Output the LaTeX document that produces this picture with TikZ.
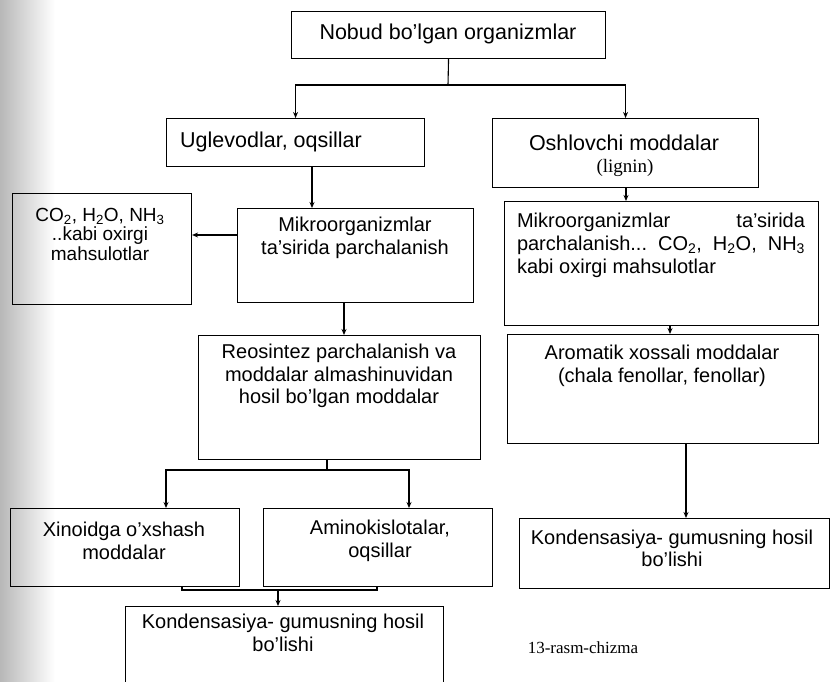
\documentclass[tikz,border=0pt]{standalone}
\usepackage{fontspec}
\setmainfont{Liberation Sans}
\newfontfamily\serifx{Liberation Serif}
\usetikzlibrary{arrows.meta,calc}
\newcommand\mkbox[5]{\node[box, minimum width=#4pt, minimum height=#5pt] (#1) at (#2,#3) {};}
\begin{document}
\begin{tikzpicture}[x=1pt,y=-1pt,
 box/.style={draw, line width=1.1pt, inner sep=0pt, anchor=north west},
 txt/.style={inner sep=0pt, align=center, font=\fontsize{20}{22.5}\selectfont},
 big/.style={txt, font=\fontsize{21.5}{24}\selectfont},
 ln/.style={line width=1.1pt},
 arr/.style={line width=1.1pt, -{Stealth[length=6pt,width=5pt]}}]
\useasboundingbox (0,0) rectangle (831,682);
\shade[left color=black!28, right color=white] (0,0) rectangle (55,682);
% boxes
\mkbox{top}{291}{11}{314}{47}
\mkbox{ugl}{166}{118}{258}{48}
\mkbox{osh}{492}{118}{266}{69}
\mkbox{mikL}{237}{208}{236}{94}
\mkbox{co2}{12}{193}{179}{111}
\mkbox{mikR}{504}{201}{314}{124}
\mkbox{reo}{198}{335}{282}{124}
\mkbox{aro}{507}{334}{311}{109}
\mkbox{kondR}{519}{518}{310}{70}
\mkbox{xin}{10}{508}{229}{78}
\mkbox{ami}{263}{508}{229}{78}
\mkbox{kondL}{125}{606}{318}{80}
% texts
\node[big] (ttop) at (448,34) {Nobud bo'lgan organizmlar};
\node[big, anchor=west] (tugl) at (180,142) {Uglevodlar, oqsillar};
\node[big] (tosh) at (624,143) {Oshlovchi moddalar};
\node[inner sep=0pt, font=\serifx\fontsize{19}{22}\selectfont] (tlig) at (625,168) {(lignin)};
\node[txt] (tmikL) at (355,238) {Mikroorganizmlar\\ta'sirida parchalanish};
\node[txt, font=\fontsize{19}{19.5}\selectfont] (tco2) at (100,234) {CO\textsubscript{2}, H\textsubscript{2}O, NH\textsubscript{3}\\..kabi oxirgi\\mahsulotlar};
\node[txt, align=left, font=\fontsize{20}{23}\selectfont] (tmikR) at (661,245) {\hbox to 288pt{Mikroorganizmlar\hfill ta'sirida}\\\hbox to 288pt{parchalanish...\hfill CO\textsubscript{2},\hfill H\textsubscript{2}O,\hfill NH\textsubscript{3}}\\\hbox to 288pt{kabi oxirgi mahsulotlar\hfill}};
\node[txt] (treo) at (339,376) {Reosintez parchalanish va\\moddalar almashinuvidan\\hosil bo'lgan moddalar};
\node[txt] (taro) at (662,366) {Aromatik xossali moddalar\\(chala fenollar, fenollar)};
\node[txt] (tkondR) at (672,548.5) {Kondensasiya- gumusning hosil\\bo'lishi};
\node[txt] (txin) at (124,541) {Xinoidga o'xshash\\moddalar};
\node[txt] (tami) at (380,541) {Aminokislotalar,\\oqsillar};
\node[txt] (tkondL) at (283,633) {Kondensasiya- gumusning hosil\\bo'lishi};
\node[inner sep=0pt, font=\serifx\fontsize{17}{20}\selectfont] (cap) at (583,648) {13-rasm-chizma};
% connectors
\coordinate (j1) at (448,85);
\draw[ln] (top.south) -- (j1);
\draw[arr] (j1) -| (ugl.north);
\draw[arr] (j1) -| (osh.north);
\coordinate (xa) at (312,0);
\draw[arr] (ugl.south -| xa) -- (mikL.north -| xa);
\coordinate (ya) at (0,235);
\draw[arr] (mikL.west |- ya) -- (co2.east |- ya);
\coordinate (xb) at (344,0);
\draw[arr] (mikL.south -| xb) -- (reo.north -| xb);
\coordinate (xc) at (626,0);
\draw[arr] (osh.south -| xc) -- (mikR.north -| xc);
\coordinate (xd) at (670,0);
\draw[arr] (mikR.south -| xd) -- (aro.north -| xd);
\coordinate (xe) at (686,0);
\draw[arr] (aro.south -| xe) -- (kondR.north -| xe);
\coordinate (j2) at (327,470);
\coordinate (xf) at (166,0);
\coordinate (xg) at (409,0);
\draw[ln] (reo.south -| j2) -- (j2);
\draw[arr] (j2) -| (xin.north -| xf);
\draw[arr] (j2) -| (ami.north -| xg);
\coordinate (j3) at (278,590);
\coordinate (xh) at (182,0);
\coordinate (xi) at (377,0);
\draw[ln] (xin.south -| xh) |- (j3);
\draw[ln] (ami.south -| xi) |- (j3);
\draw[arr] (j3) -- (kondL.north -| j3);
\end{tikzpicture}
\end{document}
